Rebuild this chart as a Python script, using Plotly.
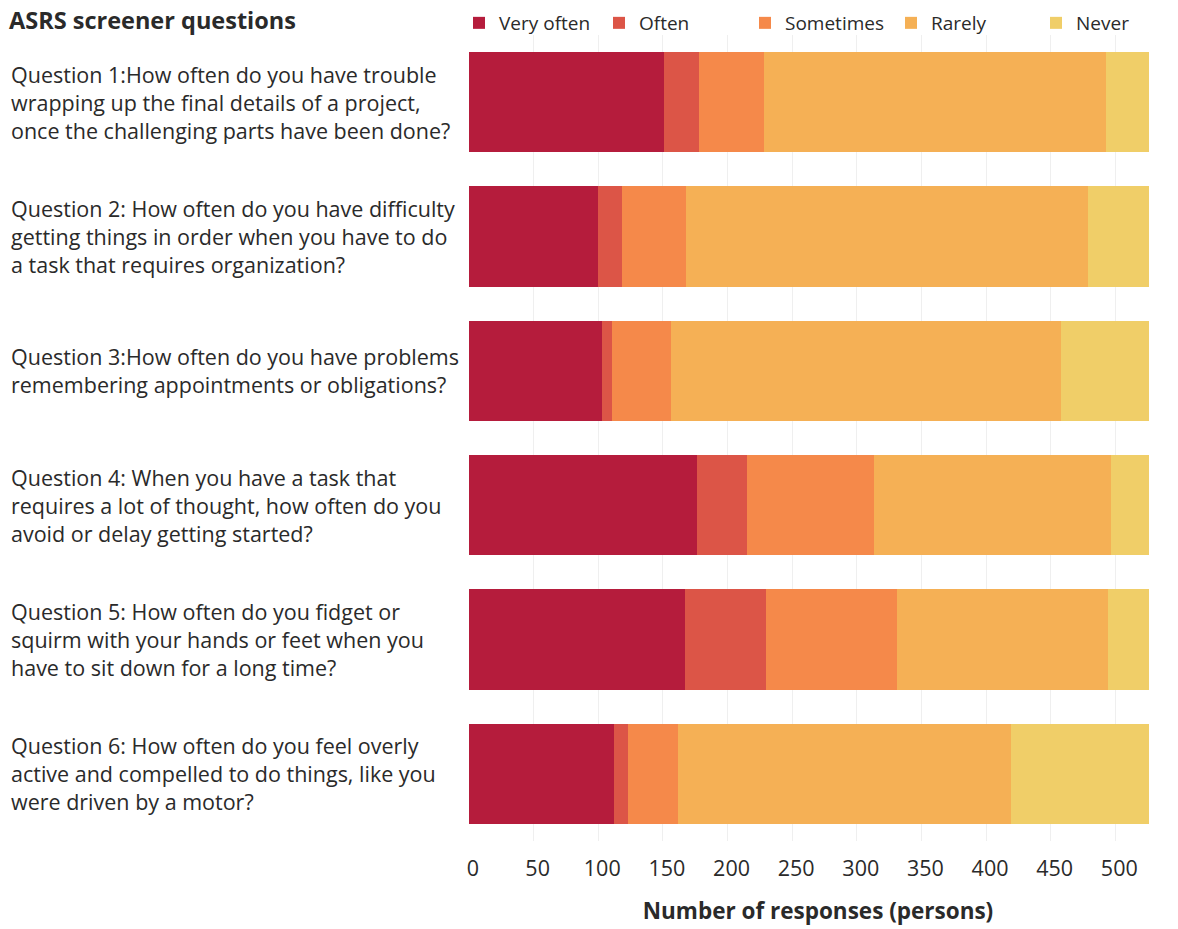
import plotly.graph_objects as go

questions = [
    "Question 1:How often do you have trouble<br>wrapping up the final details of a project,<br>once the challenging parts have been done?",
    "Question 2: How often do you have difficulty<br>getting things in order when you have to do<br>a task that requires organization?",
    "Question 3:How often do you have problems<br>remembering appointments or obligations?",
    "Question 4: When you have a task that<br>requires a lot of thought, how often do you<br>avoid or delay getting started?",
    "Question 5: How often do you fidget or<br>squirm with your hands or feet when you<br>have to sit down for a long time?",
    "Question 6: How often do you feel overly<br>active and compelled to do things, like you<br>were driven by a motor?",
]
categories = ["Q1", "Q2", "Q3", "Q4", "Q5", "Q6"]

very_often = [151, 100, 103, 176, 167, 112]
often = [27, 18, 8, 39, 63, 11]
sometimes = [50, 50, 45, 98, 101, 39]
rarely = [265, 311, 302, 184, 163, 257]
never = [33, 47, 68, 29, 32, 107]

series_names = ["Very often", "Often", "Sometimes", "Rarely", "Never"]
series_values = [very_often, often, sometimes, rarely, never]
colors = ["#B51C3C", "#DC5547", "#F5894A", "#F5B055", "#F0CE68"]

x_ticks = [0, 50, 100, 150, 200, 250, 300, 350, 400, 450, 500]

W, H = 1178, 929
FONT = "Open Sans"
TXT = "#2a2a2a"

fig = go.Figure()
legend_ids = ["legend", "legend2", "legend3", "legend4", "legend5"]
for name, vals, col, lid in zip(series_names, series_values, colors, legend_ids):
    fig.add_trace(go.Bar(
        y=categories, x=vals, name=name, orientation="h",
        marker=dict(color=col, line=dict(width=0)),
        legend=lid, showlegend=True,
    ))

# legend square centres (px)
legend_px = [484, 624, 770, 916, 1061]
legend_layout = {}
for lid, px in zip(legend_ids, legend_px):
    legend_layout[lid] = dict(
        x=(px - 20 - 5) / W, y=1 - 4 / H, xref="container", yref="container",
        xanchor="left", yanchor="top",
        orientation="h", bgcolor="rgba(0,0,0,0)",
        font=dict(family=FONT, size=19, color=TXT),
        itemclick=False, itemdoubleclick=False,
    )

annotations = []
for cat, q in zip(categories, questions):
    annotations.append(dict(
        x=0, xref="paper", xshift=-460, xanchor="left",
        y=cat, yref="y", yanchor="middle", align="left",
        text=q, showarrow=False,
        font=dict(family=FONT, size=21.5, color=TXT),
    ))

fig.update_layout(
    width=W, height=H,
    margin=dict(l=469, r=11, t=35, b=88, autoexpand=False),
    barmode="stack", bargap=0.255,
    plot_bgcolor="white", paper_bgcolor="white",
    showlegend=True,
    font=dict(family=FONT, color=TXT),
    title=dict(text="<b>ASRS screener questions</b>", xref="container", yref="container",
               x=9 / W, xanchor="left", y=1 - 21 / H, yanchor="middle",
               font=dict(family=FONT, size=23.5, color=TXT)),
    annotations=annotations,
    **legend_layout,
)
fig.update_xaxes(
    range=[0, 540], tickvals=x_ticks, ticktext=[str(v) for v in x_ticks],
    showgrid=True, gridcolor="#EFEFEF", gridwidth=1, zeroline=False,
    tickfont=dict(family=FONT, size=21.5, color=TXT), ticks="", ticklabelshift=4,
    ticklabelstandoff=12,
    title=dict(text="<b>Number of responses (persons)</b>", standoff=22,
               font=dict(family=FONT, size=22.5, color=TXT)),
    showline=False,
)
fig.update_yaxes(
    categoryorder="array", categoryarray=categories, autorange="reversed",
    showticklabels=False, showgrid=False, zeroline=False, showline=False,
)

fig.write_html("out.html")
